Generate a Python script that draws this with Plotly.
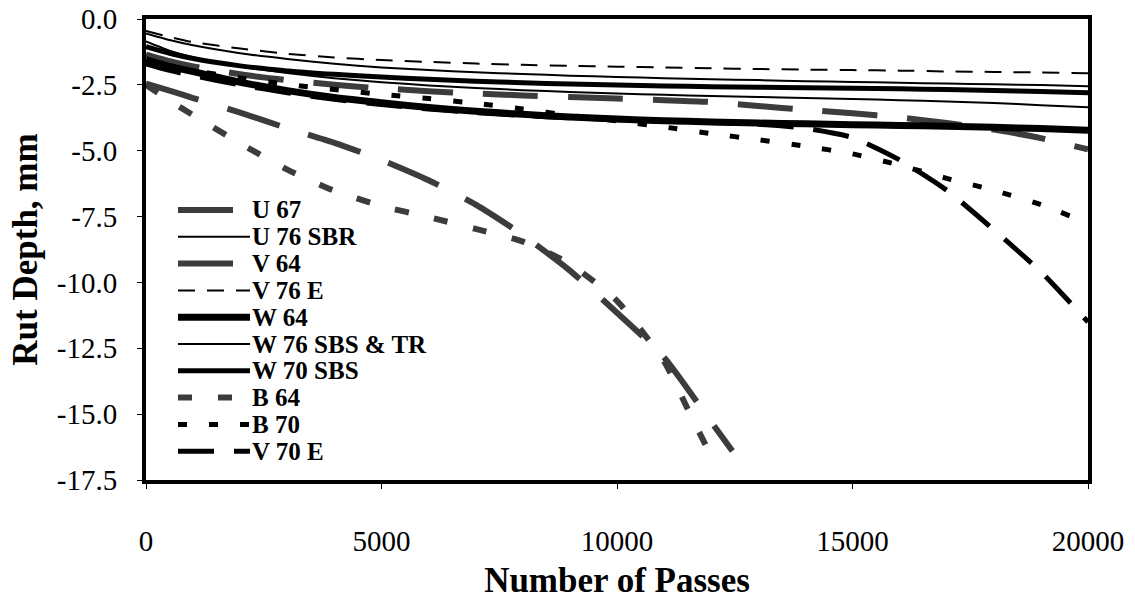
import plotly.graph_objects as go

# ---------------- data ----------------
PASSES = [0, 500, 1000, 2000, 3000, 4000, 5000, 6000, 7000, 8000, 9000, 10000,
          11000, 12000, 13000, 14000, 15000, 16000, 17000, 18000, 19000, 20000]

u67 = [-1.35, -1.6, -1.8, -2.1, -2.32, -2.5, -2.63, -2.74, -2.83, -2.9, -2.96, -3.02,
       -3.08, -3.15, -3.3, -3.45, -3.58, -3.74, -3.95, -4.2, -4.52, -4.95]
u76_sbr = [-0.85, -1.2, -1.45, -1.8, -2.05, -2.25, -2.4, -2.52, -2.62, -2.7, -2.77, -2.83,
           -2.88, -2.92, -2.96, -3.0, -3.04, -3.08, -3.13, -3.19, -3.27, -3.35]
v76_e = [-0.45, -0.68, -0.88, -1.12, -1.32, -1.46, -1.56, -1.63, -1.69, -1.74, -1.78, -1.81,
         -1.84, -1.87, -1.9, -1.92, -1.94, -1.96, -1.99, -2.01, -2.03, -2.06]
w64 = [-1.55, -1.8, -2.0, -2.4, -2.72, -2.98, -3.18, -3.36, -3.5, -3.62, -3.72, -3.8,
       -3.86, -3.91, -3.95, -3.98, -4.01, -4.04, -4.07, -4.11, -4.16, -4.22]
w76_sbs_tr = [-0.55, -0.8, -1.0, -1.3, -1.52, -1.7, -1.84, -1.94, -2.02, -2.09, -2.15, -2.2,
              -2.25, -2.29, -2.32, -2.36, -2.39, -2.42, -2.45, -2.48, -2.51, -2.55]
w70_sbs = [-1.05, -1.3, -1.5, -1.78, -1.97, -2.1, -2.2, -2.29, -2.36, -2.42, -2.47, -2.51,
           -2.54, -2.57, -2.59, -2.61, -2.63, -2.65, -2.68, -2.71, -2.75, -2.8]
b70 = [-1.6, -1.8, -1.95, -2.24, -2.48, -2.68, -2.86, -3.02, -3.2, -3.42, -3.66, -3.87,
       -4.1, -4.35, -4.58, -4.83, -5.12, -5.55, -6.05, -6.5, -7.05, -7.75]
v70_e = [-1.7, -1.95, -2.15, -2.5, -2.8, -3.05, -3.25, -3.42, -3.55, -3.66, -3.75, -3.82,
         -3.88, -3.93, -4.0, -4.15, -4.5, -5.35, -6.5, -8.0, -9.6, -11.5]

PASSES_V64 = [0, 500, 1000, 2000, 3000, 4000, 5000, 6000, 7000, 8000, 9000, 10000, 11000, 12000, 12450]
v64 = [-2.45, -2.72, -3.0, -3.55, -4.15, -4.7, -5.35, -6.12, -7.05, -8.2, -9.55, -11.15, -12.85, -15.3, -16.4]

PASSES_B64 = [0, 500, 1000, 2000, 3000, 4000, 5000, 6000, 7000, 8000, 9000, 10000, 11000, 11500, 12000]
b64 = [-2.5, -3.1, -3.65, -4.72, -5.72, -6.52, -7.1, -7.52, -7.97, -8.45, -9.3, -10.7, -13.0, -14.8, -16.6]

Y_TICKS = [0, -2.5, -5, -7.5, -10, -12.5, -15, -17.5]
Y_TICK_TEXT = ["0.0", "-2.5", "-5.0", "-7.5", "-10.0", "-12.5", "-15.0", "-17.5"]
X_TICKS = [0, 5000, 10000, 15000, 20000]
X_TICK_TEXT = ["0", "5000", "10000", "15000", "20000"]

# ---------------- styles ----------------
GRAY = "#3c3c3c"
series = [
    ("U 67", PASSES, u67, dict(color=GRAY, width=6, dash="55px,30px")),
    ("U 76 SBR", PASSES, u76_sbr, dict(color="black", width=2, dash="solid")),
    ("V 64", PASSES_V64, v64, dict(color=GRAY, width=6, dash="55px,30px")),
    ("V 76 E", PASSES, v76_e, dict(color="black", width=2, dash="17px,12px")),
    ("W 64", PASSES, w64, dict(color="black", width=7, dash="solid")),
    ("W 76 SBS & TR", PASSES, w76_sbs_tr, dict(color="black", width=2, dash="solid")),
    ("W 70 SBS", PASSES, w70_sbs, dict(color="black", width=5, dash="solid")),
    ("B 64", PASSES_B64, b64, dict(color=GRAY, width=6, dash="14px,26px")),
    ("B 70", PASSES, b70, dict(color="black", width=5, dash="9px,22px")),
    ("V 70 E", PASSES, v70_e, dict(color="black", width=5, dash="36px,20px")),
]

FONT = "Liberation Serif, Times New Roman, serif"
W, H = 1135, 600
L, R, T, B = 146, 1088, 19, 480

fig = go.Figure()
for name, xs, ys, st in series:
    fig.add_trace(go.Scatter(x=xs, y=ys, mode="lines", name=name,
                             line=dict(shape="spline", smoothing=0.6, **st),
                             showlegend=False))

# ---------------- hand-drawn legend (long samples as in the original) ----------------
def px_x(p):
    return (p - L) / (R - L)

def px_y(p):
    return (B - p) / (B - T)

leg_top = 210
leg_step = 26.8
shapes = []
annotations = []
for i, (name, xs, ys, st) in enumerate(series):
    yy = leg_top + i * leg_step
    shapes.append(dict(type="line", xref="paper", yref="paper",
                       x0=px_x(178), x1=px_x(250), y0=px_y(yy), y1=px_y(yy),
                       line=dict(color=st["color"], width=st["width"], dash=st["dash"])))
    annotations.append(dict(xref="paper", yref="paper", x=px_x(250), y=px_y(yy),
                            xanchor="left", yanchor="middle", showarrow=False,
                            text=name, font=dict(family=FONT, size=25, color="black", weight="bold")))

fig.update_layout(
    width=W, height=H,
    margin=dict(l=L, r=W - R, t=T, b=H - B, pad=0),
    paper_bgcolor="white", plot_bgcolor="white",
    font=dict(family=FONT, color="black"),
    shapes=shapes, annotations=annotations,
    xaxis=dict(range=[0, 20000], tickvals=X_TICKS, ticktext=X_TICK_TEXT,
               automargin=False,
               showline=True, linewidth=4, linecolor="black", mirror=True,
               ticks="outside", ticklen=5, tickwidth=1, tickcolor="black",
               showgrid=False, zeroline=False, ticklabelstandoff=27,
               tickfont=dict(family=FONT, size=29, color="black"),
               title=dict(text="Number of Passes", standoff=30,
                          font=dict(family=FONT, size=35, color="black", weight="bold"))),
    yaxis=dict(range=[-17.5, 0], tickvals=Y_TICKS, ticktext=Y_TICK_TEXT,
               automargin=False,
               showline=True, linewidth=4, linecolor="black", mirror=True,
               ticks="outside", ticklen=5, tickwidth=1, tickcolor="black",
               showgrid=False, zeroline=False, ticklabelstandoff=14,
               tickfont=dict(family=FONT, size=29, color="black"),
               title=dict(text="Rut Depth, mm", standoff=10,
                          font=dict(family=FONT, size=35, color="black", weight="bold"))),
)

fig.write_html("out.html")
